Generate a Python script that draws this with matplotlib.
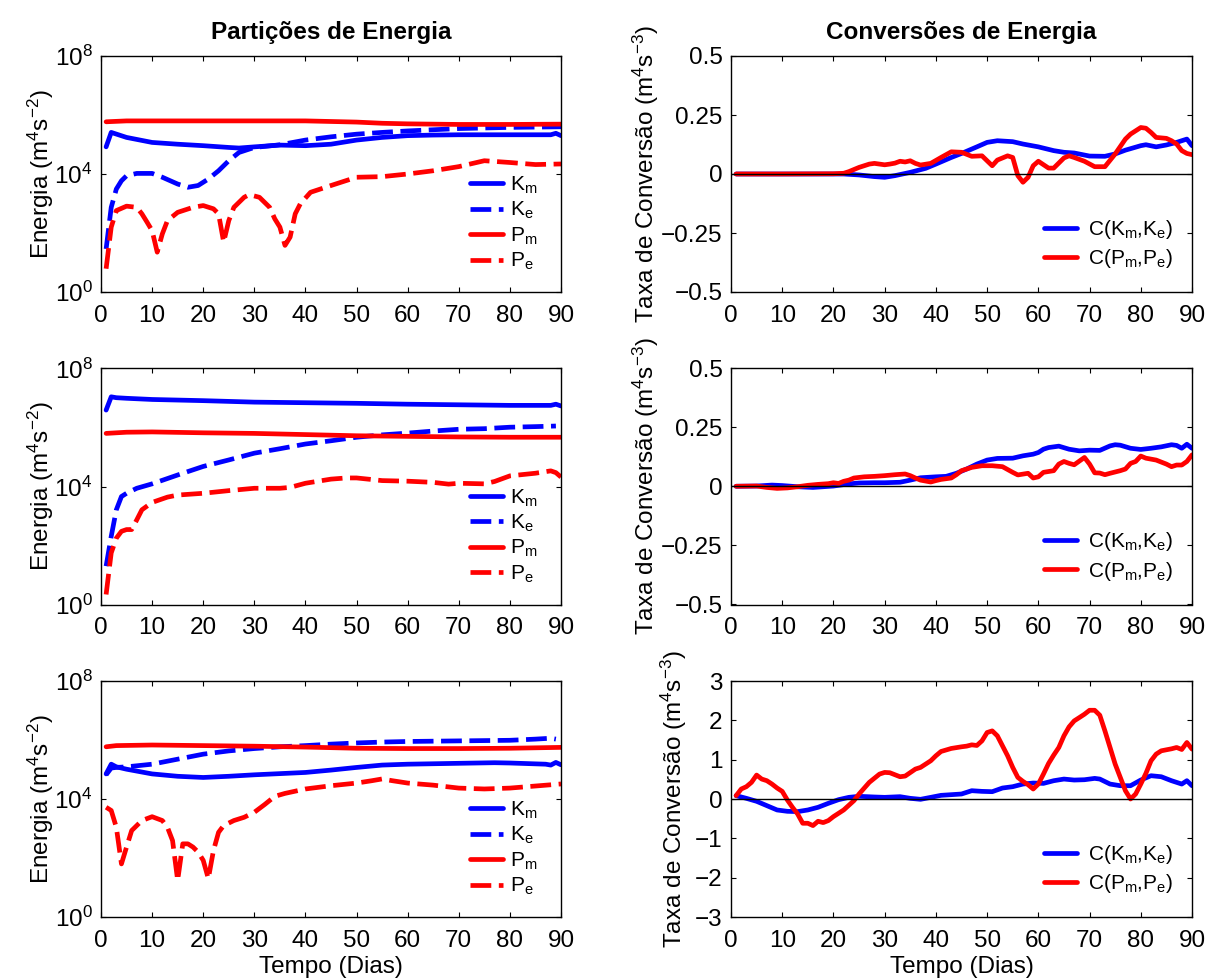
import numpy as np
import matplotlib
matplotlib.use("Agg")
import matplotlib.pyplot as plt
from matplotlib.ticker import FixedLocator, NullLocator, FuncFormatter

plt.rcParams['font.family'] = ['Liberation Sans', 'DejaVu Sans']
plt.rcParams['mathtext.fontset'] = 'custom'
plt.rcParams['mathtext.rm'] = 'Liberation Sans'
plt.rcParams['mathtext.it'] = 'Liberation Sans:italic'
plt.rcParams['mathtext.bf'] = 'Liberation Sans:bold'
plt.rcParams['mathtext.default'] = 'regular'
plt.rcParams['axes.unicode_minus'] = True

# ---------------------------------------------------------------------------
# Energy partitions (log10 of energy, m^4 s^-2), one set per experiment
# ---------------------------------------------------------------------------
# experiment 1
km1_day = [1, 2, 5, 10, 15, 20, 25, 27, 30, 35, 40, 45, 50, 55, 60, 65, 70, 80, 88, 89, 90]
km1_log = [4.92, 5.41, 5.24, 5.07, 5.01, 4.96, 4.90, 4.88, 4.92, 4.98, 4.96, 5.01, 5.15, 5.24,
           5.30, 5.32, 5.33, 5.33, 5.33, 5.38, 5.30]
ke1_day = [1, 2, 3, 4, 5, 7, 10, 12, 15, 17, 19, 21, 23, 25, 27, 30, 35, 40, 45, 50, 55, 60,
           65, 70, 80, 90]
ke1_log = [1.46, 2.87, 3.49, 3.77, 3.94, 4.02, 4.02, 3.89, 3.66, 3.55, 3.61, 3.83, 4.11, 4.45,
           4.73, 4.90, 4.99, 5.15, 5.26, 5.35, 5.41, 5.46, 5.50, 5.54, 5.58, 5.60]
pm1_day = [1, 5, 10, 20, 30, 40, 50, 55, 60, 70, 80, 90]
pm1_log = [5.77, 5.80, 5.80, 5.80, 5.80, 5.80, 5.76, 5.72, 5.70, 5.68, 5.68, 5.69]
pe1_day = [1, 2, 3, 5, 7, 8, 9, 10, 11, 12, 13, 15, 18, 20, 22, 23, 24, 25, 26, 28, 29, 31, 33,
           34, 35, 36, 37, 38, 39, 41, 45, 50, 55, 60, 65, 70, 75, 80, 85, 90]
pe1_log = [0.79, 2.20, 2.76, 2.91, 2.87, 2.65, 2.37, 2.08, 1.35, 1.97, 2.42, 2.70, 2.87, 2.93,
           2.82, 2.65, 1.69, 2.42, 2.87, 3.21, 3.30, 3.21, 2.87, 2.48, 2.20, 1.58, 1.86, 2.65,
           2.99, 3.38, 3.61, 3.89, 3.91, 4.00, 4.11, 4.25, 4.45, 4.39, 4.32, 4.34]

# experiment 2
km2_day = [1, 2, 3, 5, 10, 20, 30, 40, 50, 60, 70, 80, 88, 89, 90]
km2_log = [6.59, 7.04, 7.01, 6.99, 6.95, 6.91, 6.86, 6.84, 6.82, 6.79, 6.77, 6.75, 6.75, 6.79, 6.73]
ke2_day = [1, 2, 3, 4, 5, 7, 10, 15, 20, 25, 30, 35, 40, 45, 50, 55, 60, 65, 70, 75, 80, 85, 89]
ke2_log = [1.30, 2.31, 3.21, 3.66, 3.77, 3.94, 4.09, 4.39, 4.68, 4.90, 5.13, 5.28, 5.44, 5.55,
           5.67, 5.75, 5.81, 5.88, 5.94, 5.96, 6.01, 6.03, 6.05]
pm2_day = [1, 5, 10, 20, 30, 40, 50, 60, 70, 80, 90]
pm2_log = [5.80, 5.84, 5.85, 5.82, 5.80, 5.76, 5.72, 5.70, 5.68, 5.67, 5.67]
pe2_day = [1, 2, 3, 4, 5, 6, 7, 8, 10, 13, 15, 20, 25, 30, 35, 37, 40, 45, 48, 50, 55, 60, 65,
           68, 70, 75, 77, 80, 85, 88, 89, 90]
pe2_log = [0.34, 1.75, 2.25, 2.48, 2.54, 2.54, 2.87, 3.21, 3.46, 3.64, 3.71, 3.77, 3.86, 3.94,
           3.94, 3.97, 4.11, 4.25, 4.29, 4.29, 4.20, 4.18, 4.14, 4.08, 4.11, 4.09, 4.17, 4.36,
           4.45, 4.53, 4.47, 4.32]

# experiment 3
km3_day = [1, 2, 3, 5, 10, 15, 20, 25, 30, 35, 40, 45, 50, 55, 60, 70, 77, 80, 87, 88, 89, 90]
km3_log = [4.85, 5.18, 5.09, 5.01, 4.85, 4.77, 4.73, 4.77, 4.82, 4.86, 4.90, 4.98, 5.07, 5.15,
           5.18, 5.21, 5.23, 5.22, 5.18, 5.15, 5.24, 5.16]
ke3_day = [1, 2, 3, 5, 10, 15, 20, 25, 30, 35, 40, 45, 50, 55, 60, 70, 80, 85, 88, 89]
ke3_log = [4.82, 5.05, 5.07, 5.09, 5.18, 5.35, 5.52, 5.63, 5.71, 5.77, 5.81, 5.86, 5.90, 5.93,
           5.95, 5.97, 5.99, 6.03, 6.06, 6.03]
pm3_day = [1, 3, 10, 20, 30, 40, 50, 60, 70, 80, 90]
pm3_log = [5.77, 5.81, 5.83, 5.81, 5.79, 5.76, 5.72, 5.71, 5.71, 5.72, 5.75]
pe3_day = [1, 2, 3, 4, 5, 6, 7, 8, 10, 12, 13, 14, 15, 16, 17, 18, 19, 20, 21, 22, 23, 24, 26,
           28, 30, 32, 34, 36, 40, 45, 50, 53, 55, 57, 60, 65, 70, 75, 80, 85, 90]
pe3_log = [3.72, 3.61, 3.04, 1.80, 2.37, 2.93, 3.10, 3.27, 3.40, 3.27, 3.04, 2.59, 1.24, 2.48,
           2.48, 2.37, 2.20, 1.92, 1.30, 2.25, 2.87, 3.10, 3.27, 3.38, 3.55, 3.81, 4.09, 4.19,
           4.34, 4.45, 4.54, 4.62, 4.68, 4.62, 4.54, 4.47, 4.37, 4.34, 4.37, 4.44, 4.51]

# ---------------------------------------------------------------------------
# Energy conversion rates (m^4 s^-3)
# ---------------------------------------------------------------------------
ck1_day = [1, 22, 25, 28, 30, 32, 35, 38, 40, 43, 45, 48, 50, 52, 55, 57, 60, 63, 65, 67, 70, 73,
           75, 77, 80, 81, 83, 85, 87, 88, 89, 90]
ck1_val = [0.0, 0.0, -0.004, -0.011, -0.014, -0.007, 0.007, 0.024, 0.042, 0.070, 0.087, 0.115,
           0.134, 0.141, 0.137, 0.127, 0.115, 0.099, 0.092, 0.089, 0.076, 0.075, 0.085, 0.101,
           0.120, 0.124, 0.115, 0.123, 0.134, 0.141, 0.148, 0.120]
cp1_day = [1, 10, 20, 22, 23, 25, 27, 28, 30, 31, 32, 33, 34, 35, 36, 37, 39, 41, 43, 45, 47, 49,
           50, 51, 52, 54, 55, 56, 57, 58, 59, 60, 62, 63, 65, 66, 67, 69, 71, 73, 75, 77, 78,
           80, 81, 82, 83, 85, 86, 87, 88, 89, 90]
cp1_val = [0.0, 0.0, 0.001, 0.003, 0.010, 0.028, 0.042, 0.045, 0.039, 0.042, 0.046, 0.054, 0.051,
           0.056, 0.045, 0.038, 0.045, 0.070, 0.094, 0.092, 0.075, 0.077, 0.056, 0.035, 0.059,
           0.077, 0.070, -0.007, -0.035, -0.014, 0.035, 0.054, 0.025, 0.025, 0.068, 0.077, 0.070,
           0.054, 0.031, 0.031, 0.085, 0.148, 0.169, 0.197, 0.194, 0.176, 0.155, 0.151, 0.141,
           0.127, 0.099, 0.087, 0.082]

ck2_day = [1, 5, 8, 10, 13, 16, 20, 23, 25, 28, 30, 33, 35, 37, 40, 42, 44, 46, 48, 50, 52, 55,
           57, 59, 60, 61, 62, 64, 66, 68, 70, 72, 74, 75, 76, 78, 80, 82, 84, 86, 87, 88, 89, 90]
ck2_val = [0.001, 0.002, 0.006, 0.004, -0.001, -0.004, 0.002, 0.011, 0.015, 0.016, 0.016, 0.018,
           0.027, 0.037, 0.041, 0.043, 0.056, 0.074, 0.095, 0.112, 0.119, 0.120, 0.130, 0.137,
           0.144, 0.158, 0.165, 0.171, 0.158, 0.151, 0.154, 0.153, 0.172, 0.177, 0.175, 0.162,
           0.157, 0.162, 0.168, 0.177, 0.174, 0.162, 0.179, 0.162]
cp2_day = [1, 5, 7, 9, 11, 13, 15, 17, 19, 20, 21, 22, 23, 24, 26, 28, 30, 32, 34, 35, 36, 37,
           39, 40, 41, 43, 44, 45, 47, 49, 51, 53, 55, 56, 58, 59, 60, 61, 63, 64, 65, 66, 67,
           69, 70, 71, 72, 73, 74, 76, 77, 78, 79, 80, 81, 83, 85, 86, 87, 88, 89, 90]
cp2_val = [0.001, 0.002, -0.004, -0.008, -0.006, -0.001, 0.005, 0.009, 0.012, 0.016, 0.013,
           0.022, 0.027, 0.036, 0.041, 0.043, 0.046, 0.050, 0.053, 0.046, 0.036, 0.027, 0.019,
           0.025, 0.030, 0.036, 0.050, 0.067, 0.081, 0.088, 0.088, 0.084, 0.060, 0.049, 0.056,
           0.036, 0.041, 0.060, 0.067, 0.095, 0.106, 0.098, 0.092, 0.123, 0.095, 0.058, 0.057,
           0.050, 0.056, 0.067, 0.074, 0.098, 0.106, 0.129, 0.120, 0.112, 0.095, 0.084, 0.091,
           0.091, 0.106, 0.134]

ck3_day = [1, 3, 5, 7, 9, 11, 13, 15, 17, 19, 21, 23, 25, 28, 30, 33, 35, 37, 39, 41, 43, 45,
           47, 49, 51, 53, 55, 57, 59, 61, 63, 65, 67, 69, 71, 72, 74, 76, 78, 80, 82, 84, 86,
           88, 89, 90]
ck3_val = [0.085, 0.017, -0.059, -0.169, -0.279, -0.313, -0.321, -0.279, -0.211, -0.110, -0.017,
           0.042, 0.068, 0.051, 0.042, 0.059, 0.017, -0.008, 0.042, 0.093, 0.110, 0.127, 0.211,
           0.194, 0.186, 0.279, 0.313, 0.380, 0.406, 0.397, 0.465, 0.507, 0.482, 0.490, 0.524,
           0.507, 0.380, 0.338, 0.338, 0.482, 0.592, 0.566, 0.465, 0.380, 0.465, 0.338]
cp3_day = [1, 2, 3, 4, 5, 6, 7, 8, 9, 10, 11, 12, 13, 14, 15, 16, 17, 18, 19, 20,
           22, 24, 25, 27, 29, 30, 31, 33, 34, 36, 37, 39, 40, 41, 43, 45, 46, 47, 48, 49,
           50, 51, 52, 53, 54, 55, 56, 57, 58, 59, 60, 61, 62, 63, 64, 65, 66, 67, 68, 69,
           70, 71, 72, 73, 74, 75, 76, 77, 78, 79, 80, 81, 82, 83, 84, 85, 86, 87, 88, 89, 90]
cp3_val = [0.085, 0.254, 0.313, 0.423, 0.608, 0.507, 0.465, 0.380, 0.279, 0.194, -0.025, -0.211,
           -0.380, -0.617, -0.617, -0.676, -0.566, -0.600, -0.549, -0.448,
           -0.279, -0.042, 0.127, 0.423, 0.634, 0.676, 0.668, 0.566, 0.583, 0.761, 0.803, 0.972,
           1.099, 1.208, 1.285, 1.327, 1.344, 1.377, 1.361, 1.479,
           1.690, 1.732, 1.606, 1.352, 1.099, 0.803, 0.549, 0.448, 0.363, 0.254,
           0.380, 0.634, 0.904, 1.116, 1.310, 1.606, 1.834, 1.986, 2.070, 2.155,
           2.256, 2.256, 2.130, 1.732, 1.310, 0.887, 0.549, 0.211, 0.0, 0.127,
           0.380, 0.651, 0.972, 1.141, 1.225, 1.251, 1.276, 1.310, 1.259, 1.437, 1.268]

# axis ticks
day_ticks = [0, 10, 20, 30, 40, 50, 60, 70, 80, 90]
energy_ticks = [1e0, 1e4, 1e8]
conv_ticks_small = [-0.5, -0.25, 0, 0.25, 0.5]
conv_ticks_large = [-3, -2, -1, 0, 1, 2, 3]

energy_labels = ['K$_m$', 'K$_e$', 'P$_m$', 'P$_e$']
conv_labels = ['C(K$_m$,K$_e$)', 'C(P$_m$,P$_e$)']

BLUE = (0, 0, 1)
RED = (1, 0, 0)
LW = 3.4
DASH = (0, (4.4, 1.6))
FS = 17.5
LEG_FS = 15

fig = plt.figure(figsize=(12.07, 9.8), dpi=100)

W, H = 1207.0, 980.0
col_left = [101 / W, 731 / W]
col_width = [460 / W, 461 / W]
row_bottom = [1 - 292 / H, 1 - 604.5 / H, 1 - 917 / H]
row_height = 236 / H


def style_axes(ax):
    ax.tick_params(direction='in', length=3.6, width=0.8, top=True, right=True,
                   labelsize=FS)
    ax.tick_params(axis='x', pad=9)
    ax.tick_params(axis='y', pad=6)
    for sp in ax.spines.values():
        sp.set_linewidth(1.0)
    ax.set_xlim(0, 90)
    ax.xaxis.set_major_locator(FixedLocator(day_ticks))


def fmt_num(v, pos=None):
    s = '{:g}'.format(v)
    return s.replace('-', '\u2212')


def energy_panel(row, series):
    ax = fig.add_axes([col_left[0], row_bottom[row], col_width[0], row_height])
    styles = [(BLUE, '-'), (BLUE, DASH), (RED, '-'), (RED, DASH)]
    for (d, lg), (c, ls), lab in zip(series, styles, energy_labels):
        ax.plot(d, 10.0 ** np.asarray(lg), color=c, ls=ls, lw=LW, label=lab,
                solid_capstyle='round', dash_capstyle='butt')
    ax.set_yscale('log')
    ax.set_ylim(1e0, 1e8)
    ax.yaxis.set_major_locator(FixedLocator(energy_ticks))
    ax.yaxis.set_minor_locator(NullLocator())
    ax.yaxis.set_major_formatter(FuncFormatter(
        lambda v, p: '$10^{%d}$' % int(round(np.log10(v)))))
    style_axes(ax)
    ax.set_ylabel('Energia (m$^4$s$^{-2}$)', fontsize=FS, labelpad=-1)
    ax.legend(loc='lower right', bbox_to_anchor=(0.975, 0.03), frameon=False,
              fontsize=LEG_FS, handlelength=1.6, handletextpad=0.3,
              labelspacing=0.2, borderaxespad=0.2)
    return ax


def conv_panel(row, series, ticks, pad):
    ax = fig.add_axes([col_left[1], row_bottom[row], col_width[1], row_height])
    ax.axhline(0, color='k', lw=1.0, zorder=5)
    for (d, v), c, lab in zip(series, [BLUE, RED], conv_labels):
        ax.plot(d, v, color=c, lw=LW, label=lab, solid_capstyle='round',
                solid_joinstyle='round')
    ax.set_ylim(ticks[0], ticks[-1])
    ax.yaxis.set_major_locator(FixedLocator(ticks))
    ax.yaxis.set_major_formatter(FuncFormatter(fmt_num))
    style_axes(ax)
    ax.set_ylabel('Taxa de Conversão (m$^4$s$^{-3}$)', fontsize=FS, labelpad=pad)
    ax.legend(loc='lower right', bbox_to_anchor=(0.985, 0.04), frameon=False,
              fontsize=LEG_FS, handlelength=1.6, handletextpad=0.5,
              labelspacing=0.3, borderaxespad=0.2)
    return ax


e1 = energy_panel(0, [(km1_day, km1_log), (ke1_day, ke1_log), (pm1_day, pm1_log), (pe1_day, pe1_log)])
e2 = energy_panel(1, [(km2_day, km2_log), (ke2_day, ke2_log), (pm2_day, pm2_log), (pe2_day, pe2_log)])
e3 = energy_panel(2, [(km3_day, km3_log), (ke3_day, ke3_log), (pm3_day, pm3_log), (pe3_day, pe3_log)])

c1 = conv_panel(0, [(ck1_day, ck1_val), (cp1_day, cp1_val)], conv_ticks_small, 0)
c2 = conv_panel(1, [(ck2_day, ck2_val), (cp2_day, cp2_val)], conv_ticks_small, 0)
c3 = conv_panel(2, [(ck3_day, ck3_val), (cp3_day, cp3_val)], conv_ticks_large, 4)

e1.set_title('Partições de Energia', fontsize=FS, fontweight='bold', pad=12)
c1.set_title('Conversões de Energia', fontsize=FS, fontweight='bold', pad=12)
e3.set_xlabel('Tempo (Dias)', fontsize=FS, labelpad=3)
c3.set_xlabel('Tempo (Dias)', fontsize=FS, labelpad=3)

fig.savefig('out.png', dpi=100)
